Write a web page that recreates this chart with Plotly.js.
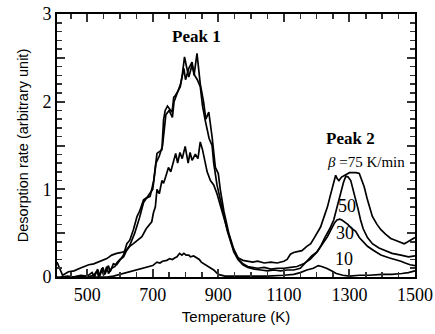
<!DOCTYPE html>
<html>
<head>
<meta charset="utf-8">
<script src="https://cdn.plot.ly/plotly-3.0.1.min.js"></script>
<style>html,body{margin:0;padding:0;background:#fff;}#chart{width:435px;height:334px;}</style>
</head>
<body>
<div id="chart"></div>
<script>
// Heating rate beta = 75 K/min
const T75 = [408,415,425,443,460,478,492,505,520,545,560,575,590,605,618,630,645,660,672,685,700,710,720,730,740,750,760,765,775,785,795,800,810,820,826,835,845,855,862,871,881,891,900,906,917,932,947,960,975,990,1005,1020,1040,1060,1080,1100,1110,1120,1130,1141,1155,1170,1182,1195,1212,1222,1233,1241,1248,1253,1258,1263,1268,1276,1284,1292,1300,1310,1320,1330,1337,1345,1355,1370,1384,1396,1410,1426,1440,1457,1467,1477,1488,1500];
const R75 = [0.17,0.10,0.02,0.06,0.07,0.10,0.12,0.14,0.15,0.19,0.21,0.25,0.27,0.28,0.30,0.36,0.50,0.68,0.85,0.92,1.00,1.30,1.38,1.50,1.85,1.90,1.82,2.00,2.10,2.20,2.38,2.25,2.38,2.45,2.30,2.55,2.20,2.00,1.80,1.88,1.60,1.25,1.18,1.00,0.75,0.50,0.32,0.22,0.19,0.18,0.17,0.18,0.16,0.17,0.16,0.18,0.20,0.26,0.28,0.29,0.30,0.35,0.38,0.46,0.57,0.68,0.80,0.92,1.03,1.10,1.16,1.12,1.10,1.14,1.16,1.18,1.19,1.19,1.19,1.18,1.12,1.03,0.88,0.69,0.60,0.54,0.49,0.44,0.42,0.39,0.38,0.40,0.42,0.45];

// Heating rate beta = 50 K/min
const T50 = [420,440,460,480,500,515,522,532,538,548,554,565,570,580,590,600,611,621,630,641,652,660,672,680,692,703,713,720,728,733,738,745,752,759,764,769,777,784,790,797,803,810,815,820,828,836,845,852,860,866,872,881,886,896,906,917,928,940,950,962,975,990,1005,1020,1040,1060,1080,1100,1120,1140,1160,1180,1200,1212,1225,1240,1252,1262,1273,1282,1289,1296,1304,1313,1320,1326,1334,1342,1355,1370,1390,1410,1430,1457,1480,1500];
const R50 = [0.00,0.01,0.00,0.02,0.01,0.05,0.00,0.09,0.01,0.11,0.03,0.13,0.06,0.15,0.14,0.20,0.25,0.38,0.42,0.54,0.69,0.75,0.88,0.90,0.92,1.10,1.41,1.43,1.45,1.79,1.90,1.95,1.92,1.88,2.05,2.07,2.12,2.17,2.30,2.51,2.40,2.28,2.35,2.42,2.30,2.25,2.17,1.95,1.79,1.70,1.58,1.50,1.30,1.05,0.88,0.70,0.52,0.38,0.28,0.20,0.15,0.12,0.11,0.10,0.11,0.09,0.10,0.10,0.11,0.12,0.15,0.20,0.28,0.35,0.45,0.55,0.65,0.80,0.95,1.08,1.15,1.14,1.10,0.98,0.88,0.78,0.65,0.55,0.45,0.38,0.33,0.30,0.27,0.25,0.23,0.24];

// Heating rate beta = 30 K/min
const T30 = [420,450,480,500,520,530,535,545,550,560,565,575,585,590,600,611,620,630,641,655,667,680,692,697,702,708,713,720,728,733,740,748,755,764,770,776,783,790,799,808,814,820,830,838,845,852,858,866,876,886,896,906,917,932,947,960,975,990,1010,1030,1050,1070,1090,1110,1130,1150,1171,1185,1202,1218,1233,1245,1255,1262,1270,1277,1285,1295,1305,1319,1330,1342,1355,1375,1396,1420,1440,1457,1470,1485,1500];
const R30 = [0.00,0.00,0.01,0.00,0.02,0.07,0.00,0.10,0.02,0.12,0.04,0.10,0.12,0.16,0.20,0.23,0.30,0.35,0.38,0.42,0.46,0.55,0.61,0.63,0.73,0.80,1.00,0.95,1.10,1.07,1.15,1.25,1.20,1.31,1.41,1.30,1.42,1.35,1.49,1.30,1.42,1.33,1.40,1.35,1.54,1.45,1.33,1.20,1.10,1.05,0.95,0.82,0.66,0.46,0.29,0.20,0.14,0.11,0.09,0.08,0.07,0.08,0.07,0.08,0.08,0.10,0.19,0.24,0.29,0.38,0.46,0.55,0.62,0.65,0.66,0.65,0.63,0.60,0.56,0.52,0.45,0.40,0.35,0.30,0.25,0.22,0.20,0.18,0.16,0.14,0.13];

// Heating rate beta = 10 K/min
const T10 = [408,450,500,540,560,580,600,615,631,650,672,690,700,713,722,730,743,752,760,768,774,782,789,795,802,810,815,825,835,842,848,860,872,886,900,920,960,1000,1050,1100,1130,1150,1170,1190,1205,1215,1230,1245,1260,1280,1300,1330,1360,1400,1430,1460,1480,1500];
const R10 = [0.00,0.00,0.00,0.00,0.00,0.01,0.03,0.04,0.06,0.08,0.10,0.12,0.13,0.17,0.16,0.18,0.19,0.21,0.20,0.22,0.23,0.27,0.25,0.27,0.25,0.25,0.23,0.24,0.21,0.20,0.17,0.14,0.11,0.08,0.03,0.01,0.01,0.01,0.01,0.02,0.03,0.05,0.08,0.10,0.13,0.12,0.10,0.07,0.04,0.02,0.01,0.02,0.02,0.03,0.03,0.04,0.05,0.07];

// Tick labels
const xTickVals = [500,700,900,1100,1300,1500];
const yTickVals = [0,0.5,1,1.5,2,2.5,3];
const yTickText = ['0','','1','','2','','3'];
const curveNames = ['75 K/min','50 K/min','30 K/min','10 K/min'];

const series = [[T75,R75],[T50,R50],[T30,R30],[T10,R10]];
const traces = series.map((s,i)=>({
  x:s[0], y:s[1], type:'scatter', mode:'lines', name:curveNames[i],
  line:{color:'#000', width:1.7}
}));

const TICK = '#333';

const layout = {
  width:435, height:334,
  margin:{l:57, r:20, t:14, b:57},
  showlegend:false,
  xaxis:{
    range:[408,1500], showgrid:false, zeroline:false,
    showline:true, linecolor:'#000', linewidth:2, mirror:'allticks',
    ticks:'inside', ticklen:8, tickwidth:2, tickcolor:TICK,
    tickmode:'array', tickvals:xTickVals,
    tickfont:{family:'Liberation Serif', size:18, color:'#000'},
    minor:{ticks:'inside', dtick:50, ticklen:5, tickwidth:1.5, tickcolor:TICK},
    title:{text:'Temperature (K)', font:{family:'Liberation Sans', size:15, color:'#000'}, standoff:8}
  },
  yaxis:{
    range:[0,3], showgrid:false, zeroline:false,
    showline:true, linecolor:'#000', linewidth:2, mirror:'allticks',
    ticks:'inside', ticklen:8, tickwidth:2, tickcolor:TICK,
    tickmode:'array', tickvals:yTickVals, ticktext:yTickText,
    tickfont:{family:'Liberation Serif', size:18, color:'#000'},
    minor:{ticks:'inside', dtick:0.1, ticklen:5, tickwidth:1.5, tickcolor:TICK},
    title:{text:'Desorption rate (arbitrary unit)', font:{family:'Liberation Sans', size:14.5, color:'#000'}, standoff:10}
  },
  annotations:[
    {x:833, y:2.74, xref:'x', yref:'y', text:'<b>Peak 1</b>', showarrow:false, font:{family:'Liberation Serif', size:17, color:'#000'}},
    {x:1304, y:1.585, xref:'x', yref:'y', text:'<b>Peak 2</b>', showarrow:false, font:{family:'Liberation Serif', size:17, color:'#000'}},
    {x:1350, y:1.31, xref:'x', yref:'y', text:'<i>β</i> =75 K/min', showarrow:false, font:{family:'Liberation Serif', size:15, color:'#000'}},
    {x:1292, y:0.81, xref:'x', yref:'y', text:'50', showarrow:false, font:{family:'Liberation Serif', size:18, color:'#000'}},
    {x:1286, y:0.50, xref:'x', yref:'y', text:'30', showarrow:false, font:{family:'Liberation Serif', size:18, color:'#000'}},
    {x:1283, y:0.205, xref:'x', yref:'y', text:'10', showarrow:false, font:{family:'Liberation Serif', size:18, color:'#000'}}
  ]
};

Plotly.newPlot('chart', traces, layout, {staticPlot:true});
</script>
</body>
</html>
